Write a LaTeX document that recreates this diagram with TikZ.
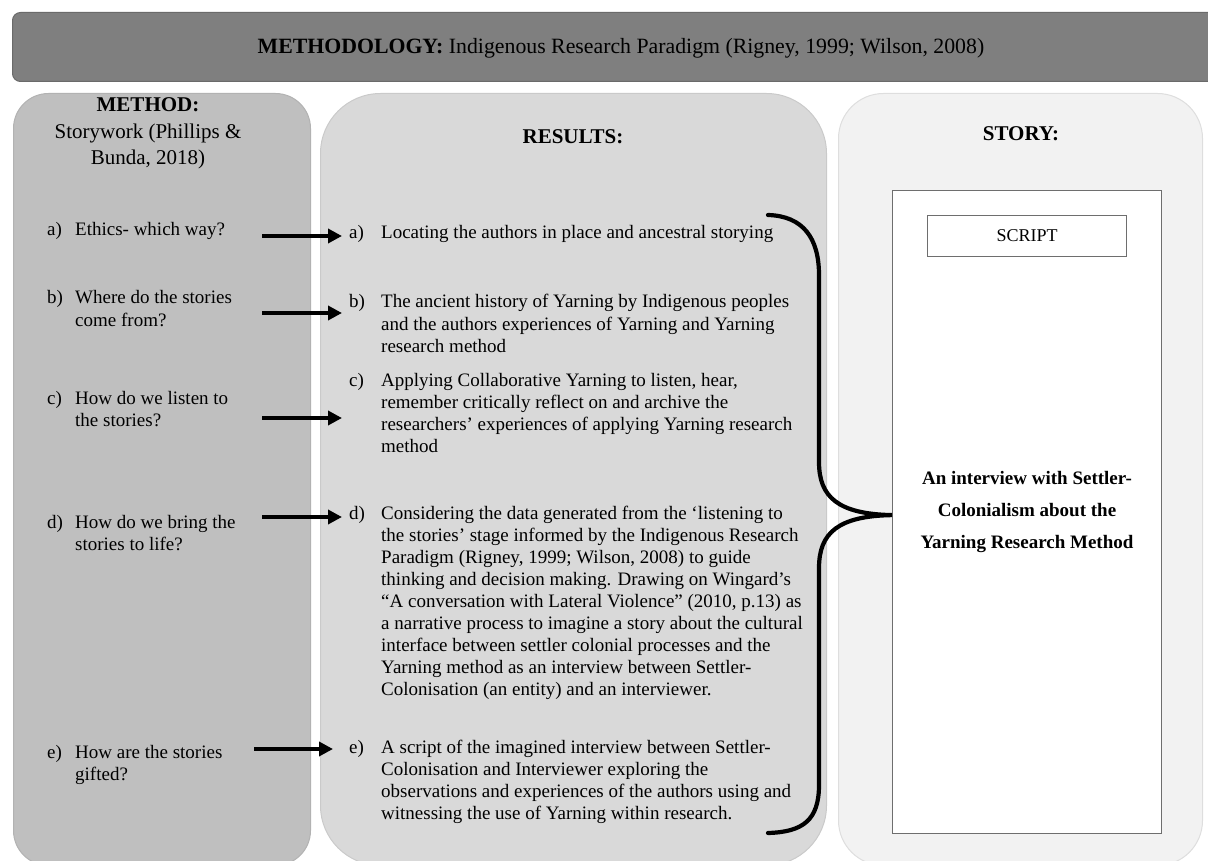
\documentclass[tikz,border=0pt]{standalone}
\usepackage{fontspec}
\setmainfont{Liberation Serif}
\usetikzlibrary{arrows.meta, positioning, calc}

\definecolor{bannerfill}{HTML}{7F7F7F}
\definecolor{bannerline}{HTML}{6A6A6A}
\definecolor{methodfill}{HTML}{BFBFBF}
\definecolor{methodline}{HTML}{B2B2B2}
\definecolor{resultsfill}{HTML}{D9D9D9}
\definecolor{resultsline}{HTML}{CACACA}
\definecolor{storyfill}{HTML}{F2F2F2}
\definecolor{storyline}{HTML}{DEDEDE}
\definecolor{pageline}{HTML}{6E6E6E}

% label + lines of one list entry
\newcommand{\litem}[3][32pt]{\makebox[#1][l]{#2}\begin{tabular}[t]{@{}l@{}}#3\end{tabular}}

\begin{document}
\begin{tikzpicture}[
    x=1pt, y=-1pt,
    every node/.style = {inner sep=0pt},
    column/.style = {rectangle, draw, line width=1pt, anchor=north west},
    heading/.style = {anchor=base, font=\fontsize{21}{26.5}\selectfont},
    entry/.style = {anchor=base west, font=\fontsize{19}{22}\selectfont},
    line/.style = {draw, -{Triangle[length=14pt, width=14pt]}, line width=3.5pt},
    bracket/.style = {draw, line width=4.2pt, line cap=round}
]
    \useasboundingbox (0,0) rectangle (1208,861);

    % Columns
    \node (methodology) [column, fill=bannerfill, draw=bannerline, rounded corners=8pt, minimum width=1210pt, minimum height=69pt] at (12,12) {};
    \node (method) [column, fill=methodfill, draw=methodline, rounded corners=35pt, minimum width=297pt, minimum height=772pt] at (13,93) {};
    \node (results) [column, fill=resultsfill, draw=resultsline, rounded corners=60pt, minimum width=506pt, minimum height=772pt] at (320,93) {};
    \node (story) [column, fill=storyfill, draw=storyline, rounded corners=45pt, minimum width=364pt, minimum height=772pt] at (838,93) {};
    \node (page) [column, fill=white, draw=pageline, line width=1.2pt, minimum width=269pt, minimum height=643pt] at (892,190) {};

    % Headings
    \node (methodologytext) [anchor=base, font=\fontsize{21.8}{24}\selectfont] at (621,54) {\textbf{METHODOLOGY:} Indigenous Research Paradigm (Rigney, 1999; Wilson, 2008)};
    \node (methodtitle) [heading] at (148,112) {\begin{tabular}[t]{@{}c@{}}\textbf{METHOD:}\\Storywork (Phillips \&\\Bunda, 2018)\end{tabular}};
    \node (resultstitle) [heading, font=\fontsize{21}{26.5}\selectfont\bfseries] at (573,144) {RESULTS:};
    \node (storytitle) [heading, font=\fontsize{21}{26.5}\selectfont\bfseries] at (1021,141) {STORY:};

    % Nodes - Method column
    \node (ma) [entry] at (47,236) {\litem[28pt]{a)}{Ethics- which way?}};
    \node (mb) [entry] at (47,304) {\litem[28pt]{b)}{Where do the stories\\come from?}};
    \node (mc) [entry] at (47,404) {\litem[28pt]{c)}{How do we listen to\\the stories?}};
    \node (md) [entry] at (47,528) {\litem[28pt]{d)}{How do we bring the\\stories to life?}};
    \node (me) [entry] at (47,758) {\litem[28pt]{e)}{How are the stories\\gifted?}};

    % Nodes - Results column
    \node (ra) [entry] at (349,239) {\litem{a)}{Locating the authors in place and ancestral storying}};
    \node (rb) [entry] at (349,308) {\litem{b)}{The ancient history of Yarning by Indigenous peoples\\and the authors experiences of Yarning and Yarning\\research method}};
    \node (rc) [entry] at (349,386) {\litem{c)}{Applying Collaborative Yarning to listen, hear,\\remember critically reflect on and archive the\\researchers’ experiences of applying Yarning research\\method}};
    \node (rd) [entry] at (349,519) {\litem{d)}{Considering the data generated from the ‘listening to\\the stories’ stage informed by the Indigenous Research\\Paradigm (Rigney, 1999; Wilson, 2008) to guide\\thinking and decision making. Drawing on Wingard’s\\“A conversation with Lateral Violence” (2010, p.13) as\\a narrative process to imagine a story about the cultural\\interface between settler colonial processes and the\\Yarning method as an interview between Settler-\\Colonisation (an entity) and an interviewer.}};
    \node (re) [entry] at (349,753) {\litem{e)}{A script of the imagined interview between Settler-\\Colonisation and Interviewer exploring the\\observations and experiences of the authors using and\\witnessing the use of Yarning within research.}};

    % Nodes - Story column
    \node (script) [draw=pageline, line width=1.2pt, fill=white, minimum width=199pt, minimum height=41pt, below=25pt of page.north, font=\fontsize{18}{22}\selectfont] {SCRIPT};
    \node (storytext) [anchor=base, font=\fontsize{19}{32}\selectfont\bfseries] at (1027,484) {\begin{tabular}[t]{@{}c@{}}An interview with Settler-\\Colonialism about the\\Yarning Research Method\end{tabular}};

    % Edges - Method to Results
    \coordinate (ta) at (262,236);
    \coordinate (tb) at (262,313);
    \coordinate (tc) at (262,418);
    \coordinate (td) at (262,517);
    \coordinate (te) at (254,749);
    \path [line, shorten >=7pt] (ta) -- (ta -| ra.west);
    \path [line, shorten >=7pt] (tb) -- (tb -| rb.west);
    \path [line, shorten >=7pt] (tc) -- (tc -| rc.west);
    \path [line, shorten >=7pt] (td) -- (td -| rd.west);
    \path [line, shorten >=16pt] (te) -- (te -| re.west);

    % Brace - Results to Story
    \coordinate (bracetop) at (768,215);
    \coordinate (bracebot) at (768,833);
    \coordinate (bracetip) at ([yshift=-3pt]page.west);
    \path [bracket] (bracetop) .. controls (803,216) and (819,238) .. (819,275) -- (819,462)
        .. controls (819,497) and (838,514) .. (bracetip)
        .. controls (838,516) and (819,533) .. (819,568) -- (819,785)
        .. controls (819,820) and (803,832) .. (bracebot);

\end{tikzpicture}
\end{document}
